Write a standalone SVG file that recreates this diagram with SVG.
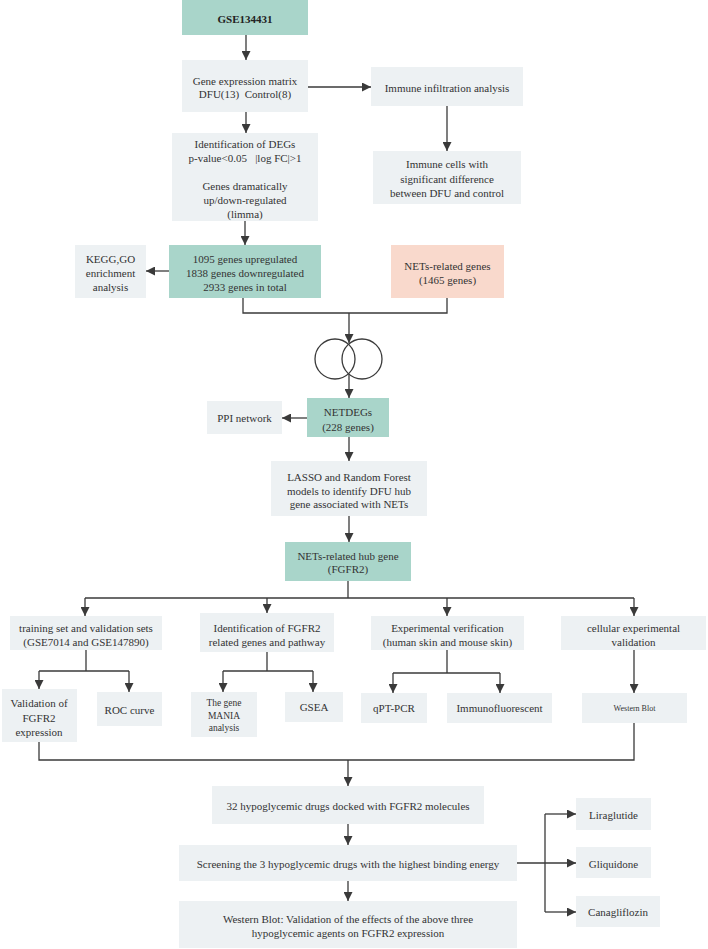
<svg xmlns="http://www.w3.org/2000/svg" width="708" height="949" viewBox="0 0 708 949">
<defs>
<style>
.g{fill:#edf1f3}
.t{fill:#a9d5ca}
.p{fill:#f9d9cc}
text{font-family:'Liberation Serif','DejaVu Serif',serif;font-size:11px;fill:#333;text-anchor:middle;white-space:pre}
.b{font-weight:bold;fill:#222}
.s{font-size:9.5px}
.xs{font-size:8px}
.c{fill:none;stroke:#3a3a3a;stroke-width:1.3}
.a{marker-end:url(#ah)}
</style>
<marker id="ah" markerUnits="userSpaceOnUse" markerWidth="9" markerHeight="9" viewBox="0 0 10 10" refX="10" refY="5" orient="auto">
<path d="M0,0 L10,5 L0,10 z" fill="#3a3a3a"/>
</marker>
</defs>
<rect width="708" height="949" fill="#fff"/>

<g id="connectors">
<line class="c a" x1="246" y1="35" x2="246" y2="60"/>
<line class="c a" x1="308" y1="87" x2="371" y2="87"/>
<line class="c a" x1="447" y1="106" x2="447" y2="151"/>
<line class="c a" x1="246" y1="112" x2="246" y2="133"/>
<line class="c a" x1="245" y1="221" x2="245" y2="245"/>
<line class="c a" x1="169" y1="271" x2="146" y2="271"/>
<polyline class="c" points="243,298 243,313 447,313 447,298"/>
<line class="c a" x1="349" y1="313" x2="349" y2="343"/>
<circle class="c" cx="335" cy="359" r="20"/>
<circle class="c" cx="362" cy="359" r="20"/>
<line class="c a" x1="349" y1="374" x2="349" y2="398"/>
<line class="c a" x1="307" y1="418" x2="282" y2="418"/>
<line class="c a" x1="349" y1="437" x2="349" y2="461"/>
<line class="c a" x1="349" y1="516" x2="349" y2="542"/>
<polyline class="c" points="348,581 348,598"/>
<polyline class="c" points="85,598 634,598"/>
<line class="c a" x1="85" y1="598" x2="85" y2="616"/>
<line class="c a" x1="267" y1="598" x2="267" y2="613"/>
<line class="c a" x1="447" y1="598" x2="447" y2="616"/>
<line class="c a" x1="634" y1="598" x2="634" y2="616"/>
<polyline class="c" points="86,650 86,671"/>
<polyline class="c" points="39,671 129,671"/>
<line class="c a" x1="39" y1="671" x2="39" y2="689"/>
<line class="c a" x1="129" y1="671" x2="129" y2="692"/>
<polyline class="c" points="267,652 267,671"/>
<polyline class="c" points="223,671 313,671"/>
<line class="c a" x1="223" y1="671" x2="223" y2="692"/>
<line class="c a" x1="313" y1="671" x2="313" y2="692"/>
<polyline class="c" points="447,650 447,673"/>
<polyline class="c" points="393,673 500,673"/>
<line class="c a" x1="393" y1="673" x2="393" y2="693"/>
<line class="c a" x1="500" y1="673" x2="500" y2="693"/>
<line class="c a" x1="634" y1="650" x2="634" y2="693"/>
<polyline class="c" points="39,742 39,760 634,760 634,723"/>
<line class="c a" x1="348" y1="760" x2="348" y2="786"/>
<line class="c a" x1="348" y1="824" x2="348" y2="845"/>
<line class="c a" x1="348" y1="881" x2="348" y2="901"/>
<line class="c a" x1="517" y1="863" x2="576" y2="863"/>
<polyline class="c" points="545,814 545,912"/>
<line class="c a" x1="545" y1="814" x2="576" y2="814"/>
<line class="c a" x1="545" y1="912" x2="576" y2="912"/>
</g>

<g id="nodes" font-family="'Liberation Serif', 'DejaVu Serif', serif">
<g id="gse"><rect class="t" x="182" y="0" width="126" height="35"/><text class="b" x="245" y="23">GSE134431</text></g>
<g id="matrix"><rect class="g" x="182" y="60" width="126" height="52"/><text x="245" y="84.5">Gene expression matrix</text><text x="245" y="98">DFU(13)  Control(8)</text></g>
<g id="immune-infiltration"><rect class="g" x="371" y="67" width="152" height="39"/><text x="447" y="91.5">Immune infiltration analysis</text></g>
<g id="immune-cells"><rect class="g" x="373" y="151" width="148" height="53"/><text x="447" y="168">Immune cells with</text><text x="447" y="183">significant difference</text><text x="447" y="197">between DFU and control</text></g>
<g id="degs"><rect class="g" x="172" y="133" width="146" height="88"/><text x="245" y="148">Identification of DEGs</text><text x="245" y="161.7">p-value&lt;0.05   |log FC|&gt;1</text><text x="245" y="189.7">Genes dramatically</text><text x="245" y="204">up/down-regulated</text><text x="245" y="218">(limma)</text></g>
<g id="deg-counts"><rect class="t" x="169" y="245" width="152" height="53"/><text x="245" y="263">1095 genes upregulated</text><text x="245" y="276.5">1838 genes downregulated</text><text x="245" y="290.7">2933 genes in total</text></g>
<g id="kegg"><rect class="g" x="75" y="245" width="71" height="53"/><text x="110.5" y="263">KEGG,GO</text><text x="110.5" y="276.5">enrichment</text><text x="110.5" y="291">analysis</text></g>
<g id="nets-genes"><rect class="p" x="391" y="245" width="113" height="53"/><text x="447.5" y="269.7">NETs-related genes</text><text x="447.5" y="284">(1465 genes)</text></g>
<g id="netdegs"><rect class="t" x="307" y="398" width="82" height="39"/><text x="348" y="415.7">NETDEGs</text><text x="348" y="430.5">(228 genes)</text></g>
<g id="ppi"><rect class="g" x="207" y="401" width="75" height="33"/><text x="244.5" y="422">PPI network</text></g>
<g id="lasso"><rect class="g" x="271" y="461" width="156" height="55"/><text x="349" y="480.7">LASSO and Random Forest</text><text x="349" y="494.7">models to identify DFU hub</text><text x="349" y="508.3">gene associated with NETs</text></g>
<g id="hub"><rect class="t" x="285" y="542" width="126" height="39"/><text x="348" y="559.7">NETs-related hub gene</text><text x="348" y="573.3">(FGFR2)</text></g>
<g id="training"><rect class="g" x="10" y="616" width="152" height="34"/><text x="86" y="632.3">training set and validation sets</text><text x="86" y="645.7">(GSE7014 and GSE147890)</text></g>
<g id="ident-fgfr2"><rect class="g" x="200" y="613" width="134" height="39"/><text x="267" y="632.3">Identification of FGFR2</text><text x="267" y="645.7">related genes and pathway</text></g>
<g id="experimental"><rect class="g" x="371" y="616" width="153" height="34"/><text x="447.5" y="632.3">Experimental verification</text><text x="447.5" y="645.7">(human skin and mouse skin)</text></g>
<g id="cellular"><rect class="g" x="561" y="616" width="145" height="34"/><text x="633.5" y="632.3">cellular experimental</text><text x="633.5" y="645.7">validation</text></g>
<g id="validation"><rect class="g" x="2" y="689" width="75" height="53"/><text x="39" y="707">Validation of</text><text x="39" y="721.5">FGFR2</text><text x="39" y="735.5">expression</text></g>
<g id="roc"><rect class="g" x="97" y="692" width="65" height="34"/><text x="129.5" y="714">ROC curve</text></g>
<g id="mania"><rect class="g" x="191" y="692" width="66" height="45"/><text class="s" x="224" y="706">The gene</text><text class="s" x="224" y="718.5">MANIA</text><text class="s" x="224" y="730.5">analysis</text></g>
<g id="gsea"><rect class="g" x="285" y="692" width="58" height="30"/><text x="314" y="711">GSEA</text></g>
<g id="qpcr"><rect class="g" x="361" y="693" width="66" height="30"/><text x="394" y="712">qPT-PCR</text></g>
<g id="if"><rect class="g" x="447" y="693" width="105" height="30"/><text x="499.5" y="712">Immunofluorescent</text></g>
<g id="wb1"><rect class="g" x="582" y="693" width="105" height="30"/><text class="xs" x="634.5" y="711">Western Blot</text></g>
<g id="docking"><rect class="g" x="212" y="786" width="272" height="38"/><text x="348" y="810">32 hypoglycemic drugs docked with FGFR2 molecules</text></g>
<g id="screening"><rect class="g" x="179" y="845" width="338" height="36"/><text x="348" y="868">Screening the 3 hypoglycemic drugs with the highest binding energy</text></g>
<g id="wb2"><rect class="g" x="179" y="901" width="338" height="47"/><text x="348" y="923">Western Blot: Validation of the effects of the above three</text><text x="348" y="936.7">hypoglycemic agents on FGFR2 expression</text></g>
<g id="liraglutide"><rect class="g" x="576" y="798" width="75" height="32"/><text x="613.5" y="819">Liraglutide</text></g>
<g id="gliquidone"><rect class="g" x="576" y="847" width="75" height="31"/><text x="613.5" y="867.5">Gliquidone</text></g>
<g id="canagliflozin"><rect class="g" x="576" y="896" width="84" height="31"/><text x="618" y="916">Canagliflozin</text></g>
</g>
</svg>
